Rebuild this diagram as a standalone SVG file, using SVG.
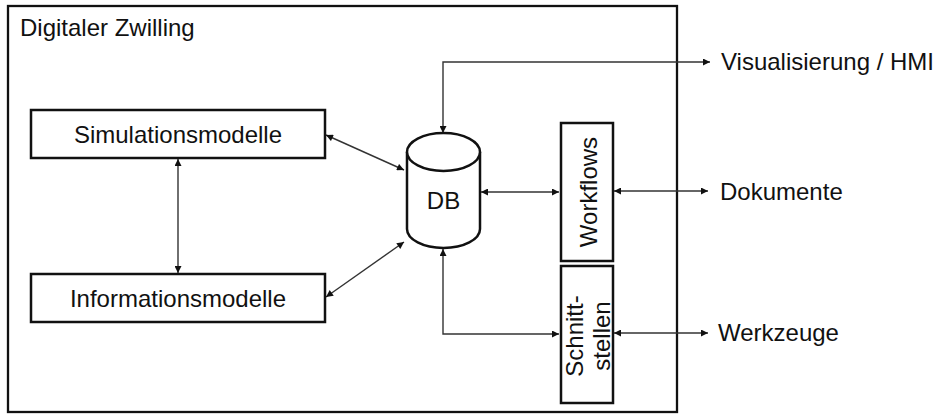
<svg xmlns="http://www.w3.org/2000/svg" width="941" height="415" viewBox="0 0 941 415">
<style>
text{font-family:"Liberation Sans",Arial,sans-serif;font-size:24px;fill:#111}
.box{fill:#fff;stroke:#111;stroke-width:2.5}
.con{fill:none;stroke:#333;stroke-width:1.4}
</style>
<defs>
<marker id="ah" viewBox="0 0 10 10" refX="10" refY="5" markerWidth="9" markerHeight="7" markerUnits="userSpaceOnUse" orient="auto-start-reverse">
<path d="M0,0 L10,5 L0,10 z" fill="#111"/>
</marker>
</defs>
<g id="digitaler-zwilling">
<rect x="8" y="6" width="669" height="406" fill="none" stroke="#111" stroke-width="2.3"/>
<text x="20" y="36">Digitaler Zwilling</text>
</g>
<g id="connectors">
<line class="con" x1="178" y1="159" x2="178" y2="273" marker-start="url(#ah)" marker-end="url(#ah)"/>
<line class="con" x1="326" y1="135" x2="404" y2="170" marker-start="url(#ah)" marker-end="url(#ah)"/>
<line class="con" x1="326" y1="297" x2="404" y2="242" marker-start="url(#ah)" marker-end="url(#ah)"/>
<polyline class="con" points="443,133 443,62 710,62" marker-start="url(#ah)" marker-end="url(#ah)"/>
<polyline class="con" points="443,249 443,334 559,334" marker-start="url(#ah)" marker-end="url(#ah)"/>
<line class="con" x1="481" y1="192" x2="559" y2="192" marker-start="url(#ah)" marker-end="url(#ah)"/>
<line class="con" x1="614" y1="191" x2="708" y2="191" marker-start="url(#ah)" marker-end="url(#ah)"/>
<line class="con" x1="614" y1="333" x2="708" y2="333" marker-start="url(#ah)" marker-end="url(#ah)"/>
</g>
<g id="simulationsmodelle">
<rect class="box" x="31" y="110" width="294" height="48"/>
<text x="178" y="143" text-anchor="middle">Simulationsmodelle</text>
</g>
<g id="informationsmodelle">
<rect class="box" x="31" y="274" width="294" height="48"/>
<text x="178" y="307" text-anchor="middle">Informationsmodelle</text>
</g>
<g id="db">
<path d="M407,152 L407,229 A36.5,19 0 0 0 480,229 L480,152" fill="#fff" stroke="#111" stroke-width="2.5"/>
<ellipse cx="443.5" cy="152" rx="36.5" ry="19" fill="#fff" stroke="#111" stroke-width="2.5"/>
<text x="443.5" y="209" text-anchor="middle">DB</text>
</g>
<g id="workflows">
<rect class="box" x="561" y="123" width="52" height="138"/>
<text transform="translate(597,192) rotate(-90)" text-anchor="middle">Workflows</text>
</g>
<g id="schnittstellen">
<rect class="box" x="561" y="266" width="52" height="137"/>
<text transform="translate(583,336) rotate(-90)" text-anchor="middle">Schnitt-</text>
<text transform="translate(610,336) rotate(-90)" text-anchor="middle">stellen</text>
</g>
<g id="visualisierung">
<text x="721" y="70">Visualisierung / HMI</text>
</g>
<g id="dokumente">
<text x="720" y="200">Dokumente</text>
</g>
<g id="werkzeuge">
<text x="718" y="341">Werkzeuge</text>
</g>
</svg>
